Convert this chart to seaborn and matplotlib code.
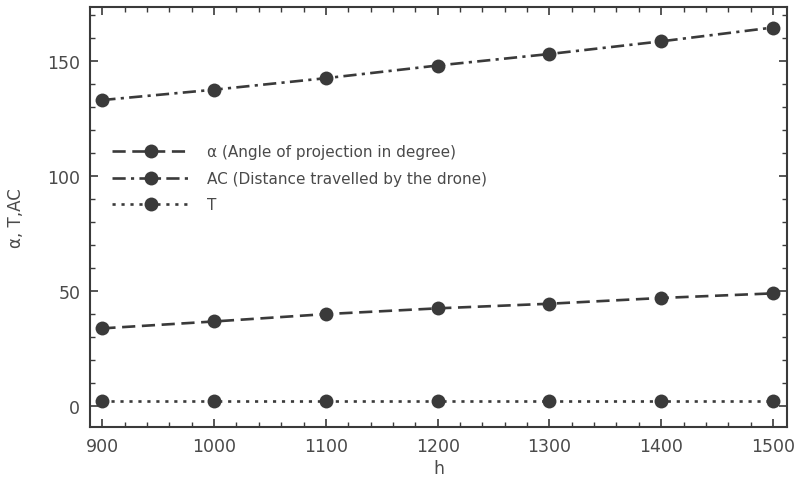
import numpy as np
import pandas as pd
import matplotlib
matplotlib.use("Agg")
import matplotlib.pyplot as plt
import seaborn as sns
from matplotlib.ticker import MultipleLocator

# --- data ---
h = [900, 1000, 1100, 1200, 1300, 1400, 1500]
alpha = [33.8, 36.8, 40.0, 42.5, 44.5, 47.0, 49.0]
ac = [133.0, 137.5, 142.5, 148.0, 153.0, 158.5, 164.5]
t = [2.1, 2.1, 2.1, 2.1, 2.1, 2.1, 2.1]
labels = ["\u03b1 (Angle of projection in degree)",
          "AC (Distance travelled by the drone)",
          "T"]

df = pd.DataFrame({
    "h": h * 3,
    "value": alpha + ac + t,
    "series": [labels[0]] * 7 + [labels[1]] * 7 + [labels[2]] * 7,
})

sns.set_theme(style="ticks")
plt.rcParams['font.family'] = ['DejaVu Sans']

grey = "#3a3a3a"
txt_col = "#4a4a4a"
fig = plt.figure(figsize=(7.97, 4.89), dpi=100)
ax = fig.add_axes([0.113, 0.125, 0.875, 0.859])

dashes = {labels[0]: (5, 2.5), labels[1]: (5, 2, 1.2, 2), labels[2]: (1.2, 2.2)}
sns.lineplot(data=df, x="h", y="value", style="series", style_order=labels,
             dashes=dashes, markers={l: "o" for l in labels}, color=grey,
             markersize=10, markeredgewidth=0, linewidth=1.9, ax=ax)

ax.set_xlim(889, 1513)
ax.set_ylim(-9, 173.5)
ax.xaxis.set_major_locator(MultipleLocator(100))
ax.xaxis.set_minor_locator(MultipleLocator(20))
ax.yaxis.set_major_locator(MultipleLocator(50))
ax.yaxis.set_minor_locator(MultipleLocator(10))
ax.tick_params(which="both", direction="in", top=True, right=True,
               color=grey, labelcolor=txt_col, labelsize=12.5, pad=7)
ax.tick_params(which="major", length=6, width=1.2)
ax.tick_params(which="minor", length=3.5, width=1.0)
for s in ax.spines.values():
    s.set_color(grey)
    s.set_linewidth(1.5)

ax.set_xlabel("h", fontsize=12.5, color=txt_col, labelpad=3)
ax.set_ylabel("\u03b1, T,AC", fontsize=12, color=txt_col, labelpad=16)

leg = ax.legend(loc="upper left", bbox_to_anchor=(0.012, 0.705), frameon=False,
                fontsize=11, handlelength=5.1, labelspacing=0.75,
                handletextpad=1.1)
for txt in leg.get_texts():
    txt.set_color(txt_col)

plt.savefig("out.png", dpi=100)
